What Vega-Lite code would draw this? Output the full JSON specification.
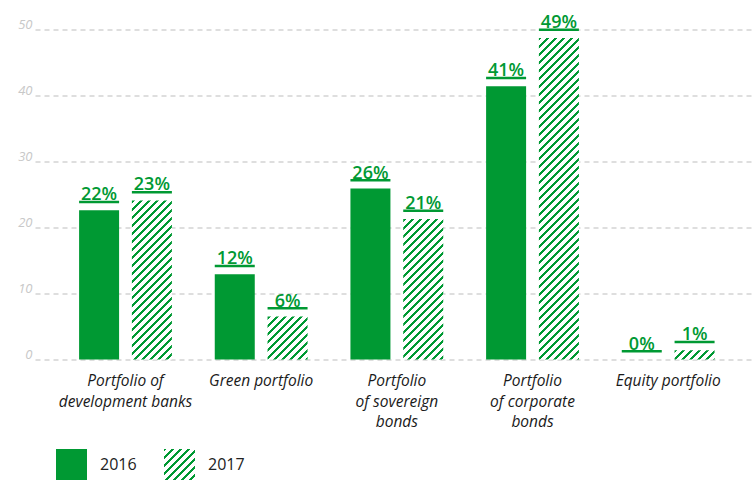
{
  "$schema": "https://vega.github.io/schema/vega-lite/v6.json",
  "autosize": "none",
  "width": 720,
  "height": 330,
  "padding": {"left": 35, "top": 29.5, "right": 1, "bottom": 122.5},
  "background": "#ffffff",
  "config": {"view": {"stroke": null}, "font": "Open Sans"},
  "params": [
    {"name": "hs", "value": [
      {"offset":0,"color":"#093"},{"offset":0.0075,"color":"#093"},{"offset":0.0075,"color":"#fff"},{"offset":0.02,"color":"#fff"},
      {"offset":0.02,"color":"#093"},{"offset":0.0275,"color":"#093"},{"offset":0.0275,"color":"#fff"},{"offset":0.04,"color":"#fff"},
      {"offset":0.04,"color":"#093"},{"offset":0.0475,"color":"#093"},{"offset":0.0475,"color":"#fff"},{"offset":0.06,"color":"#fff"},
      {"offset":0.06,"color":"#093"},{"offset":0.0675,"color":"#093"},{"offset":0.0675,"color":"#fff"},{"offset":0.08,"color":"#fff"},
      {"offset":0.08,"color":"#093"},{"offset":0.0875,"color":"#093"},{"offset":0.0875,"color":"#fff"},{"offset":0.1,"color":"#fff"},
      {"offset":0.1,"color":"#093"},{"offset":0.1075,"color":"#093"},{"offset":0.1075,"color":"#fff"},{"offset":0.12,"color":"#fff"},
      {"offset":0.12,"color":"#093"},{"offset":0.1275,"color":"#093"},{"offset":0.1275,"color":"#fff"},{"offset":0.14,"color":"#fff"},
      {"offset":0.14,"color":"#093"},{"offset":0.1475,"color":"#093"},{"offset":0.1475,"color":"#fff"},{"offset":0.16,"color":"#fff"},
      {"offset":0.16,"color":"#093"},{"offset":0.1675,"color":"#093"},{"offset":0.1675,"color":"#fff"},{"offset":0.18,"color":"#fff"},
      {"offset":0.18,"color":"#093"},{"offset":0.1875,"color":"#093"},{"offset":0.1875,"color":"#fff"},{"offset":0.2,"color":"#fff"},
      {"offset":0.2,"color":"#093"},{"offset":0.2075,"color":"#093"},{"offset":0.2075,"color":"#fff"},{"offset":0.22,"color":"#fff"},
      {"offset":0.22,"color":"#093"},{"offset":0.2275,"color":"#093"},{"offset":0.2275,"color":"#fff"},{"offset":0.24,"color":"#fff"},
      {"offset":0.24,"color":"#093"},{"offset":0.2475,"color":"#093"},{"offset":0.2475,"color":"#fff"},{"offset":0.26,"color":"#fff"},
      {"offset":0.26,"color":"#093"},{"offset":0.2675,"color":"#093"},{"offset":0.2675,"color":"#fff"},{"offset":0.28,"color":"#fff"},
      {"offset":0.28,"color":"#093"},{"offset":0.2875,"color":"#093"},{"offset":0.2875,"color":"#fff"},{"offset":0.3,"color":"#fff"},
      {"offset":0.3,"color":"#093"},{"offset":0.3075,"color":"#093"},{"offset":0.3075,"color":"#fff"},{"offset":0.32,"color":"#fff"},
      {"offset":0.32,"color":"#093"},{"offset":0.3275,"color":"#093"},{"offset":0.3275,"color":"#fff"},{"offset":0.34,"color":"#fff"},
      {"offset":0.34,"color":"#093"},{"offset":0.3475,"color":"#093"},{"offset":0.3475,"color":"#fff"},{"offset":0.36,"color":"#fff"},
      {"offset":0.36,"color":"#093"},{"offset":0.3675,"color":"#093"},{"offset":0.3675,"color":"#fff"},{"offset":0.38,"color":"#fff"},
      {"offset":0.38,"color":"#093"},{"offset":0.3875,"color":"#093"},{"offset":0.3875,"color":"#fff"},{"offset":0.4,"color":"#fff"},
      {"offset":0.4,"color":"#093"},{"offset":0.4075,"color":"#093"},{"offset":0.4075,"color":"#fff"},{"offset":0.42,"color":"#fff"},
      {"offset":0.42,"color":"#093"},{"offset":0.4275,"color":"#093"},{"offset":0.4275,"color":"#fff"},{"offset":0.44,"color":"#fff"},
      {"offset":0.44,"color":"#093"},{"offset":0.4475,"color":"#093"},{"offset":0.4475,"color":"#fff"},{"offset":0.46,"color":"#fff"},
      {"offset":0.46,"color":"#093"},{"offset":0.4675,"color":"#093"},{"offset":0.4675,"color":"#fff"},{"offset":0.48,"color":"#fff"},
      {"offset":0.48,"color":"#093"},{"offset":0.4875,"color":"#093"},{"offset":0.4875,"color":"#fff"},{"offset":0.5,"color":"#fff"},
      {"offset":0.5,"color":"#093"},{"offset":0.5075,"color":"#093"},{"offset":0.5075,"color":"#fff"},{"offset":0.52,"color":"#fff"},
      {"offset":0.52,"color":"#093"},{"offset":0.5275,"color":"#093"},{"offset":0.5275,"color":"#fff"},{"offset":0.54,"color":"#fff"},
      {"offset":0.54,"color":"#093"},{"offset":0.5475,"color":"#093"},{"offset":0.5475,"color":"#fff"},{"offset":0.56,"color":"#fff"},
      {"offset":0.56,"color":"#093"},{"offset":0.5675,"color":"#093"},{"offset":0.5675,"color":"#fff"},{"offset":0.58,"color":"#fff"},
      {"offset":0.58,"color":"#093"},{"offset":0.5875,"color":"#093"},{"offset":0.5875,"color":"#fff"},{"offset":0.6,"color":"#fff"},
      {"offset":0.6,"color":"#093"},{"offset":0.6075,"color":"#093"},{"offset":0.6075,"color":"#fff"},{"offset":0.62,"color":"#fff"},
      {"offset":0.62,"color":"#093"},{"offset":0.6275,"color":"#093"},{"offset":0.6275,"color":"#fff"},{"offset":0.64,"color":"#fff"},
      {"offset":0.64,"color":"#093"},{"offset":0.6475,"color":"#093"},{"offset":0.6475,"color":"#fff"},{"offset":0.66,"color":"#fff"},
      {"offset":0.66,"color":"#093"},{"offset":0.6675,"color":"#093"},{"offset":0.6675,"color":"#fff"},{"offset":0.68,"color":"#fff"},
      {"offset":0.68,"color":"#093"},{"offset":0.6875,"color":"#093"},{"offset":0.6875,"color":"#fff"},{"offset":0.7,"color":"#fff"},
      {"offset":0.7,"color":"#093"},{"offset":0.7075,"color":"#093"},{"offset":0.7075,"color":"#fff"},{"offset":0.72,"color":"#fff"},
      {"offset":0.72,"color":"#093"},{"offset":0.7275,"color":"#093"},{"offset":0.7275,"color":"#fff"},{"offset":0.74,"color":"#fff"},
      {"offset":0.74,"color":"#093"},{"offset":0.7475,"color":"#093"},{"offset":0.7475,"color":"#fff"},{"offset":0.76,"color":"#fff"},
      {"offset":0.76,"color":"#093"},{"offset":0.7675,"color":"#093"},{"offset":0.7675,"color":"#fff"},{"offset":0.78,"color":"#fff"},
      {"offset":0.78,"color":"#093"},{"offset":0.7875,"color":"#093"},{"offset":0.7875,"color":"#fff"},{"offset":0.8,"color":"#fff"},
      {"offset":0.8,"color":"#093"},{"offset":0.8075,"color":"#093"},{"offset":0.8075,"color":"#fff"},{"offset":0.82,"color":"#fff"},
      {"offset":0.82,"color":"#093"},{"offset":0.8275,"color":"#093"},{"offset":0.8275,"color":"#fff"},{"offset":0.84,"color":"#fff"},
      {"offset":0.84,"color":"#093"},{"offset":0.8475,"color":"#093"},{"offset":0.8475,"color":"#fff"},{"offset":0.86,"color":"#fff"},
      {"offset":0.86,"color":"#093"},{"offset":0.8675,"color":"#093"},{"offset":0.8675,"color":"#fff"},{"offset":0.88,"color":"#fff"},
      {"offset":0.88,"color":"#093"},{"offset":0.8875,"color":"#093"},{"offset":0.8875,"color":"#fff"},{"offset":0.9,"color":"#fff"},
      {"offset":0.9,"color":"#093"},{"offset":0.9075,"color":"#093"},{"offset":0.9075,"color":"#fff"},{"offset":0.92,"color":"#fff"}
    ]}
  ],
  "data": {"values": [
    {"cat": "Portfolio of|development banks", "year": "2016", "v": 22.6, "lab": "22%"},
    {"cat": "Portfolio of|development banks", "year": "2017", "v": 24.1, "lab": "23%"},
    {"cat": "Green portfolio", "year": "2016", "v": 12.9, "lab": "12%"},
    {"cat": "Green portfolio", "year": "2017", "v": 6.5, "lab": "6%"},
    {"cat": "Portfolio|of sovereign|bonds", "year": "2016", "v": 25.9, "lab": "26%"},
    {"cat": "Portfolio|of sovereign|bonds", "year": "2017", "v": 21.3, "lab": "21%"},
    {"cat": "Portfolio|of corporate|bonds", "year": "2016", "v": 41.4, "lab": "41%"},
    {"cat": "Portfolio|of corporate|bonds", "year": "2017", "v": 48.7, "lab": "49%"},
    {"cat": "Equity portfolio", "year": "2016", "v": 0, "lab": "0%"},
    {"cat": "Equity portfolio", "year": "2017", "v": 1.4, "lab": "1%"}
  ]},
  "encoding": {
    "x": {
      "field": "cat", "type": "nominal", "sort": null,
      "scale": {"paddingInner": 0, "paddingOuter": 0.1535, "align": 0.544},
      "axis": {
        "title": null, "domain": false, "ticks": false, "labelAngle": 0,
        "labelExpr": "split(datum.label, '|')",
        "labelFont": "Open Sans", "labelFontStyle": "italic", "labelFontSize": 15.5,
        "labelColor": "#1a1a1a", "labelLineHeight": 20.5, "labelPadding": 14, "labelLimit": 300
      }
    },
    "xOffset": {
      "field": "year", "type": "nominal",
      "scale": {"paddingInner": 0.2424, "paddingOuter": 0.4059}
    },
    "y": {
      "field": "v", "type": "quantitative",
      "scale": {"domain": [0, 50], "nice": false},
      "axis": {
        "title": null, "domain": false, "ticks": false,
        "values": [0, 10, 20, 30, 40, 50],
        "grid": true, "gridDash": [5, 4], "gridColor": "#bdbdbd", "gridWidth": 1,
        "labelFont": "Open Sans", "labelFontStyle": "italic", "labelFontSize": 13,
        "labelColor": "#c8c8c8", "labelPadding": 3, "labelBaseline": "alphabetic", "labelOffset": -1
      }
    }
  },
  "layer": [
    {
      "mark": {"type": "bar"},
      "encoding": {
        "fill": {
          "field": "year", "type": "nominal",
          "scale": {"domain": ["2016", "2017"], "range": ["#093", {"expr": "{gradient: 'linear', x1: 0, y1: 0, x2: 6.4516, y2: 6.4516, stops: hs}"}]},
          "condition": {
            "test": "datum.year === '2017'",
            "value": {"expr": "{gradient: 'linear', x1: 0, y1: 0, x2: bandwidth('xOffset') * 400 / (pow(bandwidth('xOffset'), 2) + pow(height - scale('y', datum.v), 2)), y2: (height - scale('y', datum.v)) * 400 / (pow(bandwidth('xOffset'), 2) + pow(height - scale('y', datum.v), 2)), stops: hs}"}
          },
          "legend": {
            "title": null, "orient": "none", "legendX": 21, "legendY": 419.5,
            "direction": "horizontal", "padding": 0,
            "symbolType": "square", "symbolSize": 961, "symbolStrokeWidth": 0,
            "labelFont": "Open Sans", "labelFontSize": 16, "labelColor": "#222222",
            "labelOffset": 13, "columnPadding": 27
          }
        }
      }
    },
    {
      "mark": {"type": "bar", "color": "#093", "yOffset": -9.5, "y2Offset": -7},
      "encoding": {"y2": {"field": "v"}}
    },
    {
      "mark": {"type": "text", "color": "#093", "font": "Open Sans", "fontSize": 18, "fontWeight": 600, "baseline": "alphabetic", "align": "center", "dy": -10},
      "encoding": {"text": {"field": "lab"}}
    }
  ]
}
